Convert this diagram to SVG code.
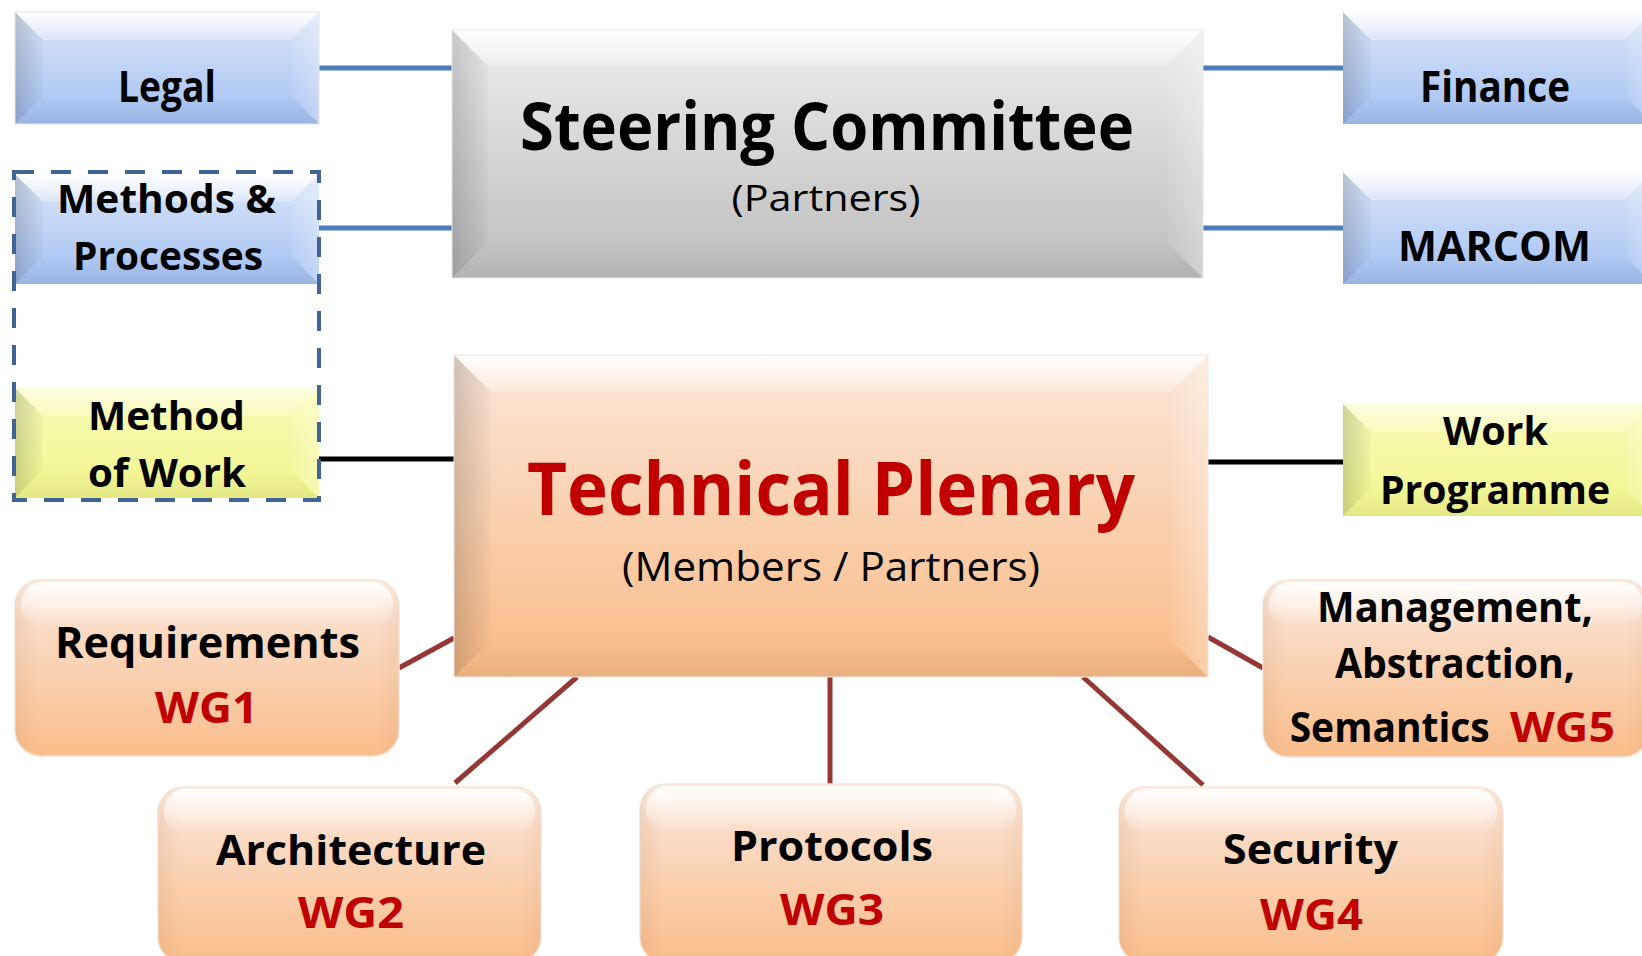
<svg xmlns="http://www.w3.org/2000/svg" width="1642" height="956" viewBox="0 0 1642 956">
<style>
  .t { font-family: "Open Sans", "Liberation Sans", sans-serif; font-weight: 700; text-anchor: middle; fill: #000; }
  .reg { font-weight: 400; }
  .red { fill: #C00000; }
  .blue { stroke: #4A7EBB; stroke-width: 5; }
  .blk { stroke: #000; stroke-width: 5; }
  .dred { stroke: #953735; stroke-width: 5; }
  .edge { fill: none; stroke: #E6E6E6; stroke-width: 1; }
</style>
<defs>
  <linearGradient id="gBlue" x1="0" y1="0" x2="0" y2="1">
    <stop offset="0" stop-color="#DCE7FA"/>
    <stop offset="1" stop-color="#A2C0F1"/>
  </linearGradient>
  <linearGradient id="gGray" x1="0" y1="0" x2="0" y2="1">
    <stop offset="0" stop-color="#EDEDED"/>
    <stop offset="1" stop-color="#BDBDBD"/>
  </linearGradient>
  <linearGradient id="gYellow" x1="0" y1="0" x2="0" y2="1">
    <stop offset="0" stop-color="#F8FBB8"/>
    <stop offset="1" stop-color="#F1F68C"/>
  </linearGradient>
  <linearGradient id="gOrange" x1="0" y1="0" x2="0" y2="1">
    <stop offset="0" stop-color="#FBE6D8"/>
    <stop offset="1" stop-color="#F8BB86"/>
  </linearGradient>
  <linearGradient id="gWG" x1="0" y1="0" x2="0" y2="1">
    <stop offset="0" stop-color="#FDF0E6"/>
    <stop offset="0.25" stop-color="#FADCC6"/>
    <stop offset="1" stop-color="#F9BD8B"/>
  </linearGradient>
  <linearGradient id="gTop" x1="0" y1="0" x2="0" y2="1">
    <stop offset="0" stop-color="#FFFFFF" stop-opacity="0.95"/>
    <stop offset="1" stop-color="#FFFFFF" stop-opacity="0.25"/>
  </linearGradient>
  <linearGradient id="gLeft" x1="0" y1="0" x2="1" y2="0">
    <stop offset="0" stop-color="#000000" stop-opacity="0.16"/>
    <stop offset="1" stop-color="#000000" stop-opacity="0.02"/>
  </linearGradient>
  <linearGradient id="gRight" x1="0" y1="0" x2="1" y2="0">
    <stop offset="0" stop-color="#FFFFFF" stop-opacity="0.05"/>
    <stop offset="1" stop-color="#FFFFFF" stop-opacity="0.3"/>
  </linearGradient>
  <linearGradient id="gBottom" x1="0" y1="0" x2="0" y2="1">
    <stop offset="0" stop-color="#000000" stop-opacity="0.0"/>
    <stop offset="1" stop-color="#000000" stop-opacity="0.06"/>
  </linearGradient>
  <linearGradient id="gHi" x1="0" y1="0" x2="0" y2="1">
    <stop offset="0" stop-color="#FFFFFF" stop-opacity="0.9"/>
    <stop offset="1" stop-color="#FFFFFF" stop-opacity="0"/>
  </linearGradient>
  <linearGradient id="gSide" x1="0" y1="0" x2="1" y2="0">
    <stop offset="0" stop-color="#B07040" stop-opacity="0.12"/>
    <stop offset="0.06" stop-color="#B07040" stop-opacity="0"/>
    <stop offset="0.94" stop-color="#B07040" stop-opacity="0"/>
    <stop offset="1" stop-color="#B07040" stop-opacity="0.08"/>
  </linearGradient>
</defs>

<rect width="1642" height="956" fill="#FFFFFF"/>

<g id="connectors">
  <line class="blue" x1="319" y1="68" x2="452" y2="68"/>
  <line class="blue" x1="319" y1="228" x2="452" y2="228"/>
  <line class="blue" x1="1203" y1="68" x2="1343" y2="68"/>
  <line class="blue" x1="1203" y1="228" x2="1343" y2="228"/>
  <line class="blk" x1="319" y1="459" x2="454" y2="459"/>
  <line class="blk" x1="1208" y1="462" x2="1343" y2="462"/>
  <line class="dred" x1="454" y1="638" x2="399" y2="668"/>
  <line class="dred" x1="577" y1="677" x2="455" y2="783"/>
  <line class="dred" x1="830" y1="677" x2="830" y2="785"/>
  <line class="dred" x1="1083" y1="677" x2="1203" y2="785"/>
  <line class="dred" x1="1208" y1="637" x2="1263" y2="668"/>
</g>

<g id="legal">
  <rect x="15" y="12" width="304" height="112" fill="url(#gBlue)"/>
  <polygon points="15,12 319,12 291,40 43,40" fill="url(#gTop)"/>
  <polygon points="15,12 43,40 43,96 15,124" fill="url(#gLeft)"/>
  <polygon points="319,12 319,124 291,96 291,40" fill="url(#gRight)"/>
  <polygon points="15,124 43,96 291,96 319,124" fill="url(#gBottom)"/>
  <rect class="edge" x="15" y="12" width="304" height="112"/>
  <text class="t" x="167" y="102" font-size="43" textLength="98" lengthAdjust="spacingAndGlyphs">Legal</text>
</g>

<g id="methods-processes">
  <rect x="15" y="174" width="304" height="110" fill="url(#gBlue)"/>
  <polygon points="15,174 319,174 291,202 43,202" fill="url(#gTop)"/>
  <polygon points="15,174 43,202 43,256 15,284" fill="url(#gLeft)"/>
  <polygon points="319,174 319,284 291,256 291,202" fill="url(#gRight)"/>
  <polygon points="15,284 43,256 291,256 319,284" fill="url(#gBottom)"/>
  <text class="t" x="166.5" y="213" font-size="40" textLength="219" lengthAdjust="spacingAndGlyphs">Methods &amp;</text>
  <text class="t" x="168" y="270" font-size="40" textLength="190" lengthAdjust="spacingAndGlyphs">Processes</text>
</g>

<g id="method-of-work">
  <rect x="15" y="388" width="304" height="110" fill="url(#gYellow)"/>
  <polygon points="15,388 319,388 291,416 43,416" fill="url(#gTop)" opacity="0.6"/>
  <polygon points="15,388 43,416 43,470 15,498" fill="url(#gLeft)"/>
  <polygon points="319,388 319,498 291,470 291,416" fill="url(#gRight)"/>
  <polygon points="15,498 43,470 291,470 319,498" fill="url(#gBottom)"/>
  <text class="t" x="166.5" y="430" font-size="40" textLength="157" lengthAdjust="spacingAndGlyphs">Method</text>
  <text class="t" x="167" y="487" font-size="40" textLength="158" lengthAdjust="spacingAndGlyphs">of Work</text>
</g>

<g id="methods-group">
  <rect x="14" y="172" width="305" height="328" fill="none" stroke="#3F6598" stroke-width="4" stroke-dasharray="20,17"/>
</g>

<g id="steering-committee">
  <rect x="452" y="30" width="751" height="248" fill="url(#gGray)"/>
  <polygon points="452,30 1203,30 1167,66 488,66" fill="url(#gTop)"/>
  <polygon points="452,30 488,66 488,242 452,278" fill="url(#gLeft)"/>
  <polygon points="1203,30 1203,278 1167,242 1167,66" fill="url(#gRight)"/>
  <polygon points="452,278 488,242 1167,242 1203,278" fill="url(#gBottom)"/>
  <rect class="edge" x="452" y="30" width="751" height="248"/>
  <text class="t" x="827" y="150" font-size="67" textLength="614" lengthAdjust="spacingAndGlyphs">Steering Committee</text>
  <text class="t reg" x="826" y="211" font-size="37" textLength="189" lengthAdjust="spacingAndGlyphs">(Partners)</text>
</g>

<g id="finance">
  <rect x="1343" y="12" width="310" height="112" fill="url(#gBlue)"/>
  <polygon points="1343,12 1653,12 1625,40 1371,40" fill="url(#gTop)"/>
  <polygon points="1343,12 1371,40 1371,96 1343,124" fill="url(#gLeft)"/>
  <polygon points="1653,12 1653,124 1625,96 1625,40" fill="url(#gRight)"/>
  <polygon points="1343,124 1371,96 1625,96 1653,124" fill="url(#gBottom)"/>
  <text class="t" x="1495" y="102" font-size="43" textLength="150" lengthAdjust="spacingAndGlyphs">Finance</text>
</g>

<g id="marcom">
  <rect x="1343" y="172" width="310" height="112" fill="url(#gBlue)"/>
  <polygon points="1343,172 1653,172 1625,200 1371,200" fill="url(#gTop)"/>
  <polygon points="1343,172 1371,200 1371,256 1343,284" fill="url(#gLeft)"/>
  <polygon points="1653,172 1653,284 1625,256 1625,200" fill="url(#gRight)"/>
  <polygon points="1343,284 1371,256 1625,256 1653,284" fill="url(#gBottom)"/>
  <text class="t" x="1494.5" y="261" font-size="41" textLength="193" lengthAdjust="spacingAndGlyphs">MARCOM</text>
</g>

<g id="technical-plenary">
  <rect x="454" y="355" width="754" height="322" fill="url(#gOrange)"/>
  <polygon points="454,355 1208,355 1171,392 491,392" fill="url(#gTop)"/>
  <polygon points="454,355 491,392 491,640 454,677" fill="url(#gLeft)"/>
  <polygon points="1208,355 1208,677 1171,640 1171,392" fill="url(#gRight)"/>
  <polygon points="454,677 491,640 1171,640 1208,677" fill="url(#gBottom)"/>
  <rect class="edge" x="454" y="355" width="754" height="322"/>
  <text class="t red" x="831" y="515" font-size="74" textLength="608" lengthAdjust="spacingAndGlyphs">Technical Plenary</text>
  <text class="t reg" x="831" y="581" font-size="41" textLength="418" lengthAdjust="spacingAndGlyphs">(Members / Partners)</text>
</g>

<g id="work-programme">
  <rect x="1343" y="404" width="310" height="112" fill="url(#gYellow)"/>
  <polygon points="1343,404 1653,404 1625,432 1371,432" fill="url(#gTop)" opacity="0.6"/>
  <polygon points="1343,404 1371,432 1371,488 1343,516" fill="url(#gLeft)"/>
  <polygon points="1653,404 1653,516 1625,488 1625,432" fill="url(#gRight)"/>
  <polygon points="1343,516 1371,488 1625,488 1653,516" fill="url(#gBottom)"/>
  <text class="t" x="1495.5" y="445" font-size="40" textLength="105" lengthAdjust="spacingAndGlyphs">Work</text>
  <text class="t" x="1495" y="504" font-size="40" textLength="230" lengthAdjust="spacingAndGlyphs">Programme</text>
</g>

<g id="wg1">
  <rect x="15" y="580" width="384" height="176" rx="26" fill="url(#gWG)" stroke="#F6E3D5" stroke-width="1.5"/>
  <rect x="15" y="580" width="384" height="176" rx="26" fill="url(#gSide)"/>
  <rect x="21" y="582" width="372" height="46" rx="22" fill="url(#gHi)"/>
  <text class="t" x="207.5" y="658" font-size="43" textLength="305" lengthAdjust="spacingAndGlyphs">Requirements</text>
  <text class="t red" x="206.5" y="723" font-size="43" textLength="103" lengthAdjust="spacingAndGlyphs">WG1</text>
</g>

<g id="wg5">
  <rect x="1263" y="580" width="386" height="177" rx="26" fill="url(#gWG)" stroke="#F6E3D5" stroke-width="1.5"/>
  <rect x="1263" y="580" width="386" height="177" rx="26" fill="url(#gSide)"/>
  <rect x="1269" y="582" width="374" height="46" rx="22" fill="url(#gHi)"/>
  <text class="t" x="1455" y="622" font-size="41" textLength="276" lengthAdjust="spacingAndGlyphs">Management,</text>
  <text class="t" x="1455" y="678" font-size="41" textLength="240" lengthAdjust="spacingAndGlyphs">Abstraction,</text>
  <text class="t" y="742" font-size="41"><tspan x="1395" textLength="200" lengthAdjust="spacingAndGlyphs">Semantics</tspan> <tspan class="red" x="1562.5" textLength="105" lengthAdjust="spacingAndGlyphs">WG5</tspan></text>
</g>

<g id="wg2">
  <rect x="158" y="787" width="383" height="176" rx="26" fill="url(#gWG)" stroke="#F6E3D5" stroke-width="1.5"/>
  <rect x="158" y="787" width="383" height="176" rx="26" fill="url(#gSide)"/>
  <rect x="164" y="789" width="371" height="46" rx="22" fill="url(#gHi)"/>
  <text class="t" x="351" y="865" font-size="42" textLength="270" lengthAdjust="spacingAndGlyphs">Architecture</text>
  <text class="t red" x="351" y="928" font-size="43" textLength="106" lengthAdjust="spacingAndGlyphs">WG2</text>
</g>

<g id="wg3">
  <rect x="640" y="784" width="382" height="179" rx="26" fill="url(#gWG)" stroke="#F6E3D5" stroke-width="1.5"/>
  <rect x="640" y="784" width="382" height="179" rx="26" fill="url(#gSide)"/>
  <rect x="646" y="786" width="370" height="46" rx="22" fill="url(#gHi)"/>
  <text class="t" x="832" y="861" font-size="42" textLength="202" lengthAdjust="spacingAndGlyphs">Protocols</text>
  <text class="t red" x="832" y="925" font-size="43" textLength="104" lengthAdjust="spacingAndGlyphs">WG3</text>
</g>

<g id="wg4">
  <rect x="1119" y="787" width="384" height="176" rx="26" fill="url(#gWG)" stroke="#F6E3D5" stroke-width="1.5"/>
  <rect x="1119" y="787" width="384" height="176" rx="26" fill="url(#gSide)"/>
  <rect x="1125" y="789" width="372" height="46" rx="22" fill="url(#gHi)"/>
  <text class="t" x="1310.5" y="864" font-size="42" textLength="175" lengthAdjust="spacingAndGlyphs">Security</text>
  <text class="t red" x="1311.5" y="930" font-size="43" textLength="103" lengthAdjust="spacingAndGlyphs">WG4</text>
</g>
</svg>
